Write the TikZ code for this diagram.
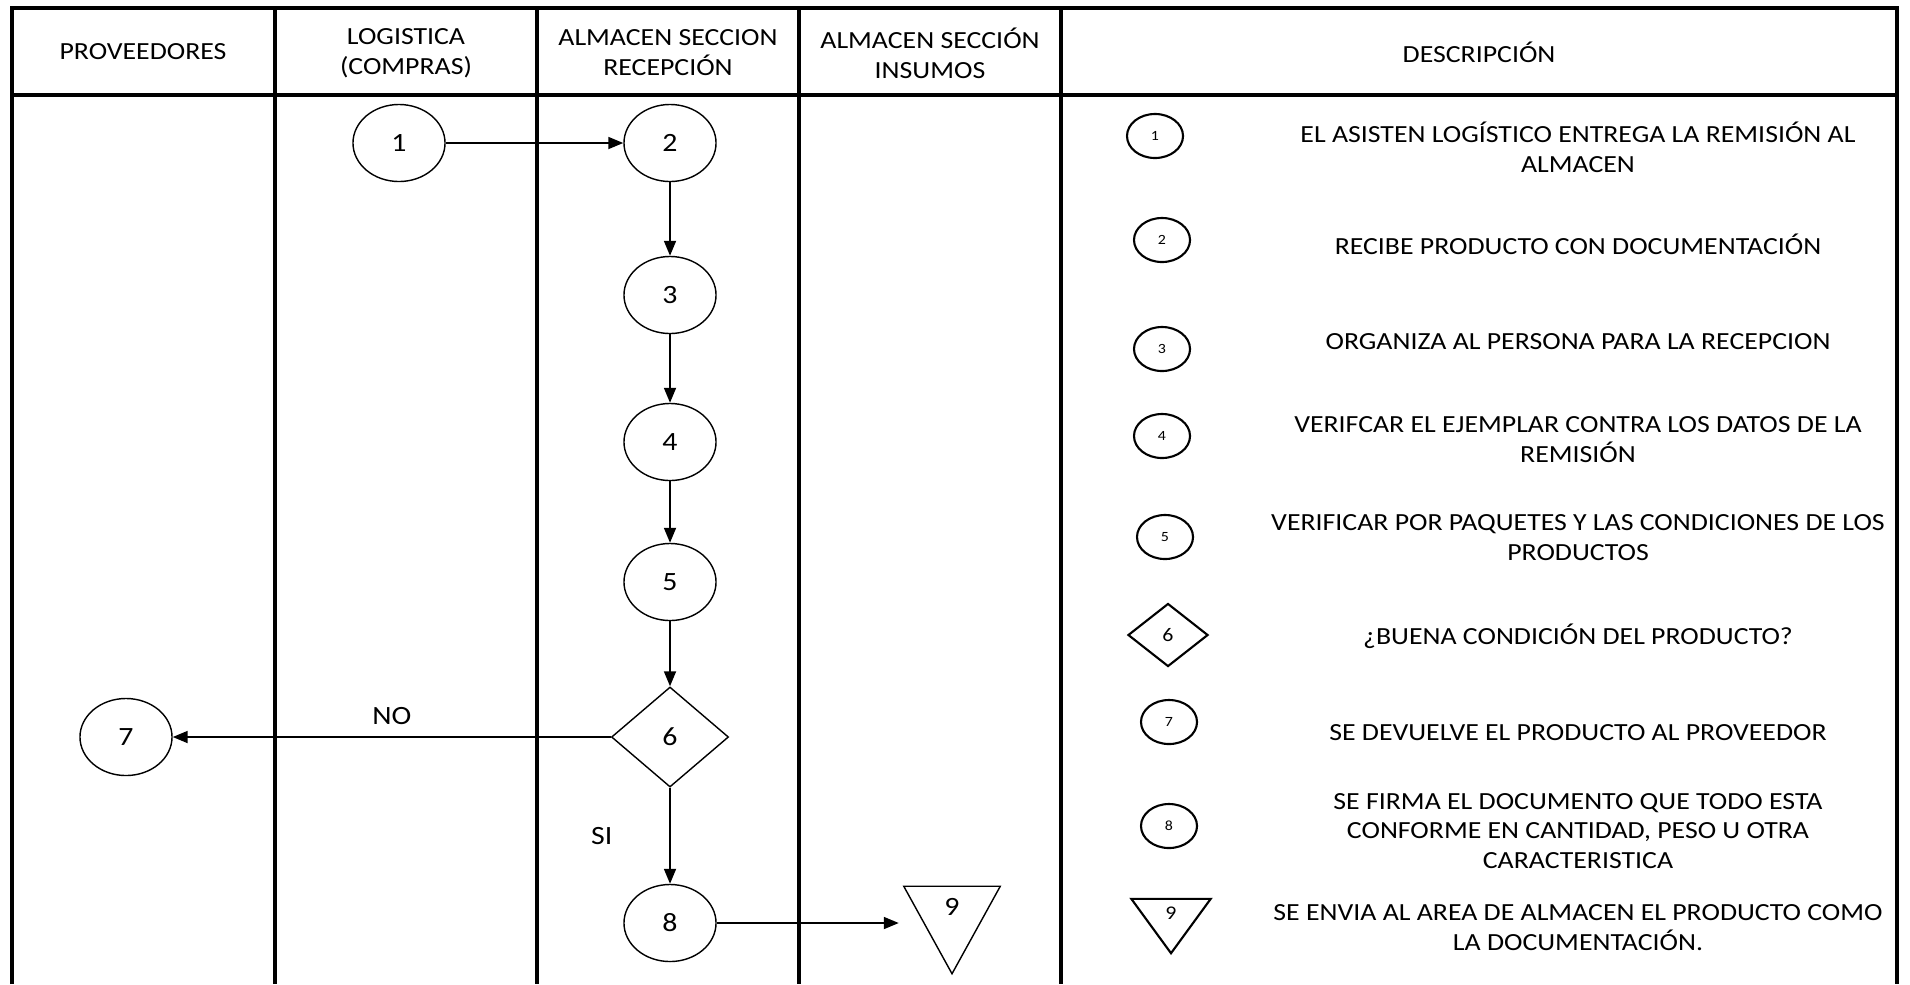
\documentclass[tikz,border=0pt]{standalone}
\usepackage{fontspec}
\setmainfont{Carlito}[FakeStretch=1.13]
\usetikzlibrary{shapes.geometric,arrows.meta}

\begin{document}
\begin{tikzpicture}[x=0.01cm, y=-0.01cm,
        paso/.style = {draw, ellipse, minimum width=0.92cm, minimum height=0.77cm, inner sep=0pt, font=\fontsize{7.5}{9}\selectfont},
        decision/.style = {draw, diamond, minimum width=1.17cm, minimum height=1cm, inner sep=0pt, font=\fontsize{7.5}{9}\selectfont},
        almacen/.style = {inner sep=0pt, minimum width=0.95cm, minimum height=0.86cm},
        ley/.style = {draw, line width=0.6pt, ellipse, minimum width=0.56cm, minimum height=0.44cm, inner sep=0pt, font=\fontsize{4}{5}\selectfont},
        leydec/.style = {draw, line width=0.6pt, diamond, minimum width=0.8cm, minimum height=0.63cm, inner sep=0pt, font=\fontsize{5.5}{6}\selectfont},
        leyalm/.style = {inner sep=0pt, minimum width=0.78cm, minimum height=0.53cm},
        texto/.style = {align=center, font=\fontsize{7}{8.5}\selectfont},
        tabla/.style = {line width=1pt},
        flecha/.style = {-{Triangle[length=0.15cm, width=0.12cm]}, line width=0.5pt}]
        \useasboundingbox (0,0) rectangle (1910,984);

        % tabla
        \draw[tabla] (12,984) -- (12,8) -- (1897,8) -- (1897,984);
        \draw[tabla] (12,95) -- (1897,95);
        \foreach \x in {275,537,799,1061}
            \draw[tabla] (\x,8) -- (\x,984);

        \node[texto] at (143,52) (h1) {PROVEEDORES};
        \node[texto] at (406,53) (h2) {LOGISTICA\\(COMPRAS)};
        \node[texto] at (668,53) (h3) {ALMACEN SECCION\\RECEPCIÓN};
        \node[texto] at (930,53) (h4) {ALMACEN SECCIÓN\\INSUMOS};
        \node[texto] at (1479,52) (h5) {DESCRIPCIÓN};

        % diagrama
        \node[paso] at (399,143) (1) {1};
        \node[paso] at (670,143) (2) {2};
        \node[paso] at (670,295) (3) {3};
        \node[paso] at (670,442) (4) {4};
        \node[paso] at (670,582) (5) {5};
        \node[decision] at (670,737) (6) {6};
        \node[paso] at (126,737) (7) {7};
        \node[paso] at (670,923) (8) {8};
        \node[almacen] at (952,930) (9) {};
        \draw (9.north west) -- (9.north east) -- (9.south) -- cycle;
        \node[font=\fontsize{7.5}{9}\selectfont] at (952,907) (t9) {9};

        \draw[flecha] (1) -- (2);
        \draw[flecha] (2) -- (3);
        \draw[flecha] (3) -- (4);
        \draw[flecha] (4) -- (5);
        \draw[flecha] (5) -- (6);
        \draw[flecha] (6) -- (7) node[midway, above, font=\fontsize{7.5}{9}\selectfont] {NO};
        \draw[flecha] (6) -- (8) node[midway, left=0.45cm, font=\fontsize{7.5}{9}\selectfont] {SI};
        \draw[flecha] (8) -- ([xshift=-0.05cm]9.west |- 8);

        % leyenda
        \node[ley] at (1155,136) (l1) {1};
        \node[ley] at (1162,240) (l2) {2};
        \node[ley] at (1162,349) (l3) {3};
        \node[ley] at (1162,436) (l4) {4};
        \node[ley] at (1165,537) (l5) {5};
        \node[leydec] at (1168,635) (l6) {6};
        \node[ley] at (1169,722) (l7) {7};
        \node[ley] at (1169,826) (l8) {8};
        \node[leyalm] at (1171,926) (l9) {};
        \draw[line width=0.6pt] (l9.north west) -- (l9.north east) -- (l9.south) -- cycle;
        \node[font=\fontsize{5.5}{6}\selectfont] at (1171,913) (tl9) {9};

        \node[texto] at (1578,147) (d1) {EL ASISTEN LOGÍSTICO ENTREGA LA REMISIÓN AL\\ALMACEN};
        \node[texto] at (1578,244) (d2) {RECIBE PRODUCTO CON DOCUMENTACIÓN};
        \node[texto] at (1578,342) (d3) {ORGANIZA AL PERSONA PARA LA RECEPCION};
        \node[texto] at (1578,440) (d4) {VERIFCAR EL EJEMPLAR CONTRA LOS DATOS DE LA\\REMISIÓN};
        \node[texto] at (1578,538) (d5) {VERIFICAR POR PAQUETES Y LAS CONDICIONES DE LOS\\PRODUCTOS};
        \node[texto] at (1578,636) (d6) {¿BUENA CONDICIÓN DEL PRODUCTO?};
        \node[texto] at (1578,733) (d7) {SE DEVUELVE EL PRODUCTO AL PROVEEDOR};
        \node[texto] at (1578,831) (d8) {SE FIRMA EL DOCUMENTO QUE TODO ESTA\\CONFORME EN CANTIDAD, PESO U OTRA\\CARACTERISTICA};
        \node[texto] at (1578,928) (d9) {SE ENVIA AL AREA DE ALMACEN EL PRODUCTO COMO\\LA DOCUMENTACIÓN.};
    \end{tikzpicture}
\end{document}
